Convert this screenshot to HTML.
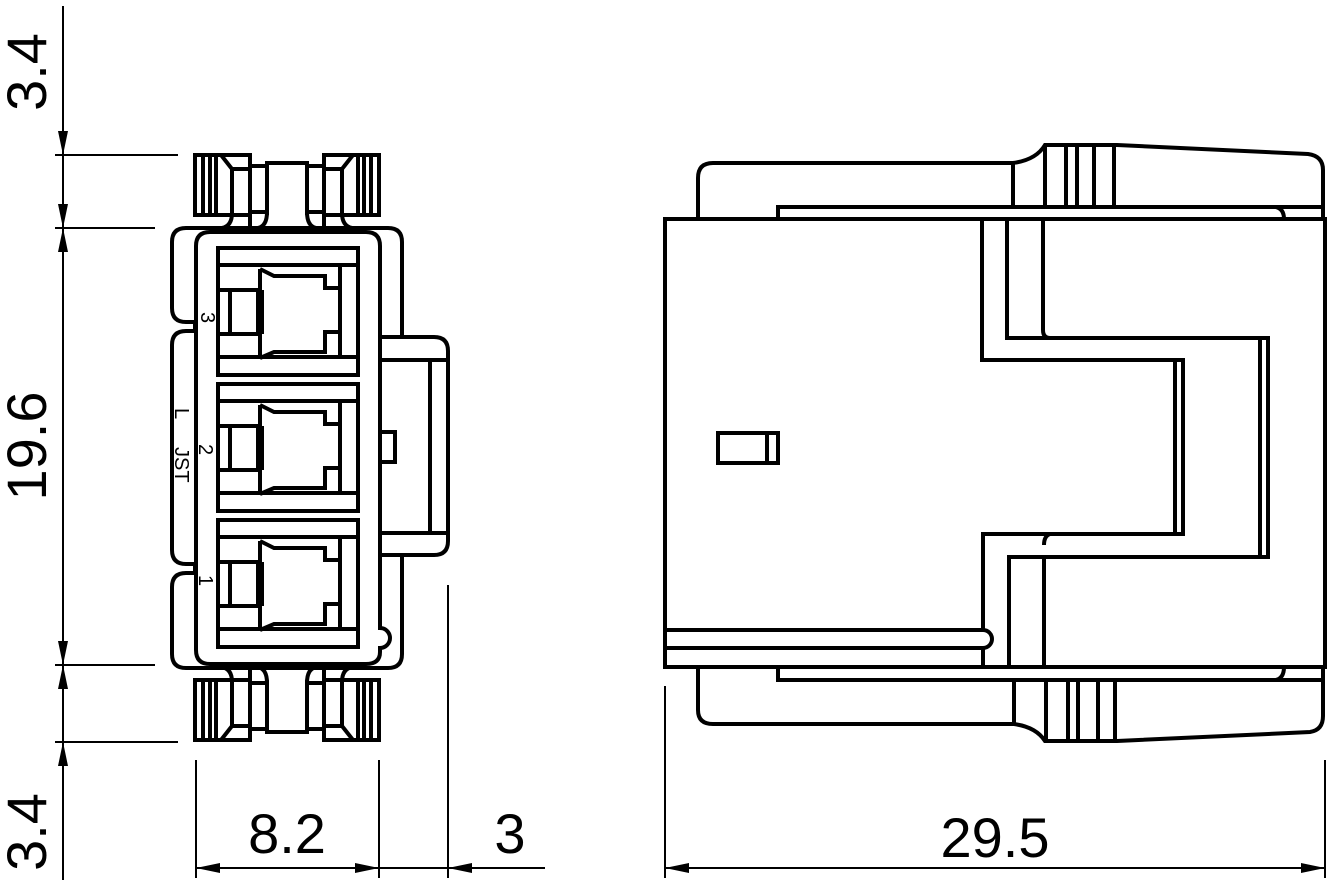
<!DOCTYPE html>
<html><head><meta charset="utf-8"><style>
html,body{margin:0;padding:0;background:#fff;}
svg{display:block;}
text{font-family:"Liberation Sans",sans-serif;fill:#000;}
</style></head><body>
<svg width="1333" height="884" viewBox="0 0 1333 884" xmlns="http://www.w3.org/2000/svg">
<defs>
<g id="cav" fill="none" stroke="#000" stroke-width="4">
 <rect x="0" y="0" width="140" height="127"/>
 <line x1="0" y1="17" x2="140" y2="17"/>
 <line x1="0" y1="109" x2="140" y2="109"/>
 <path d="M0,42 H42 V21"/>
 <path d="M0,86 H42 V108"/>
 <path d="M42,21 L56,28 H107 V40 H122 V84 H107 V104 H56 L42,110"/>
 <line x1="12" y1="42" x2="12" y2="86"/>
 <line x1="40" y1="42" x2="40" y2="86"/>
 <line x1="44" y1="42" x2="44" y2="86"/>
 <line x1="122" y1="17" x2="122" y2="109"/>
</g>
<g id="latch" fill="none" stroke="#000" stroke-width="4">
 <rect x="195" y="155" width="55" height="60"/>
 <line x1="203" y1="155" x2="203" y2="215"/>
 <line x1="210" y1="155" x2="210" y2="215"/>
 <line x1="216" y1="155" x2="216" y2="215"/>
 <path d="M221,155 L232,169 H250"/>
 <path d="M232,169 V213 Q232,226 222,228"/>
 <line x1="250" y1="215" x2="250" y2="228"/>
 <path d="M250,166 H267 M250,212 H267"/>
 <path d="M267,215 V163 H307 V215"/>
 <path d="M267,212 Q267,226 258,228 M307,212 Q307,226 316,228"/>
 <path d="M307,166 H324 M307,212 H324"/>
 <rect x="324" y="155" width="55" height="60"/>
 <line x1="371" y1="155" x2="371" y2="215"/>
 <line x1="364" y1="155" x2="364" y2="215"/>
 <line x1="358" y1="155" x2="358" y2="215"/>
 <path d="M353,155 L342,169 H324"/>
 <path d="M342,169 V213 Q342,226 352,228"/>
 <line x1="324" y1="215" x2="324" y2="228"/>
</g>
</defs>

<use href="#latch"/>
<use href="#latch" transform="translate(0,895) scale(1,-1)"/>
<g fill="none" stroke="#000" stroke-width="4">
 <path d="M186,228 H388 Q402,228 402,242 V337"/>
 <path d="M186,228 Q172,228 172,242 V308 Q172,322 186,322 H195 V331 H186 Q172,331 172,345 V550 Q172,564 186,564 H195 V573 H186 Q172,573 172,587 V654 Q172,668 186,668 H388 Q402,668 402,654 V555"/>
 <path d="M210,232 H366 Q380,232 380,246 V628 A10,10 0 0 1 380,648 V652 Q380,664 366,664 H210 Q196,664 196,650 V246 Q196,232 210,232 Z"/>
 <path d="M380,337 H434 Q448,337 448,351 V541 Q448,555 434,555 H380"/>
 <path d="M380,360 H448 M380,533 H448"/>
 <line x1="430" y1="360" x2="430" y2="533"/>
 <rect x="380" y="432" width="15" height="30"/>
</g>
<use href="#cav" x="218" y="248"/>
<use href="#cav" x="218" y="384"/>
<use href="#cav" x="218" y="520"/>
<g font-size="20">
 <text transform="translate(201,312) rotate(90)">3</text>
 <text transform="translate(199,444) rotate(90)">2</text>
 <text transform="translate(199,575) rotate(90)">1</text>
 <text transform="translate(175,408) rotate(90)">L</text>
 <text transform="translate(175,447) rotate(90)">JST</text>
</g>

<g fill="none" stroke="#000" stroke-width="4">
 <rect x="665" y="219" width="660" height="448"/>
 <path d="M698,219 V178 Q698,163 713,163 H1013 Q1036,160 1045,145 H1117 L1308,154 Q1323,156 1323,170 V219"/>
 <path d="M778,219 V207 H1323"/>
 <path d="M1276,207 Q1284,209 1284,219"/>
 <path d="M1013,163 V207 M1045,145 V207 M1066,145 V207 M1077,145 V207 M1094,145 V207 M1114,145 V207"/>
 <path d="M698,667 V710 Q698,724 713,724 H1014 Q1036,727 1045,741 H1117 L1310,732 Q1323,730 1323,716 V667"/>
 <path d="M778,667 V680 H1323"/>
 <path d="M1276,680 Q1284,678 1284,667"/>
 <path d="M1014,680 V724 M1046,680 V741 M1068,680 V741 M1078,680 V741 M1098,680 V741 M1115,680 V741"/>
 <path d="M982,219 V360 H1183 V534 H983 V630"/>
 <path d="M983,648 V667"/>
 <path d="M1175,360 V534"/>
 <path d="M1007,219 V338 H1268 V557 H1009 V667"/>
 <path d="M1260,338 V557"/>
 <path d="M1043,219 V330 Q1043,338 1050,338"/>
 <path d="M1044,667 V557"/>
 <path d="M1050,534 Q1044,536 1044,545"/>
 <path d="M665,630 H983 A9,9 0 0 1 983,648 H665"/>
 <rect x="718" y="433" width="60" height="30"/>
 <line x1="767" y1="433" x2="767" y2="463"/>
</g>

<g stroke="#000" stroke-width="2" fill="none">
 <line x1="63" y1="6" x2="63" y2="880"/>
 <line x1="55" y1="155" x2="178" y2="155"/>
 <line x1="55" y1="228" x2="155" y2="228"/>
 <line x1="55" y1="665" x2="155" y2="665"/>
 <line x1="55" y1="742" x2="178" y2="742"/>
 <line x1="196" y1="760" x2="196" y2="878"/>
 <line x1="379" y1="760" x2="379" y2="878"/>
 <line x1="448" y1="585" x2="448" y2="878"/>
 <line x1="665" y1="686" x2="665" y2="878"/>
 <line x1="1325" y1="760" x2="1325" y2="878"/>
 <line x1="196" y1="868" x2="545" y2="868"/>
 <line x1="665" y1="868" x2="1325" y2="868"/>
</g>
<g fill="#000">
 <polygon points="63,155 58,131 68,131"/>
 <polygon points="63,228 58,252 68,252"/>
 <polygon points="63,228 58,204 68,204"/>
 <polygon points="63,665 58,641 68,641"/>
 <polygon points="63,665 58,689 68,689"/>
 <polygon points="63,742 58,766 68,766"/>
 <polygon points="196,868 220,863 220,873"/>
 <polygon points="379,868 355,863 355,873"/>
 <polygon points="448,868 472,863 472,873"/>
 <polygon points="665,868 689,863 689,873"/>
 <polygon points="1325,868 1301,863 1301,873"/>
</g>
<g font-size="56">
 <text x="287" y="853" text-anchor="middle">8.2</text>
 <text x="510" y="853" text-anchor="middle">3</text>
 <text x="995" y="857" text-anchor="middle">29.5</text>
 <text transform="translate(46,72) rotate(-90)" text-anchor="middle">3.4</text>
 <text transform="translate(46,446) rotate(-90)" text-anchor="middle">19.6</text>
 <text transform="translate(46,832) rotate(-90)" text-anchor="middle">3.4</text>
</g>
</svg>
</body></html>
